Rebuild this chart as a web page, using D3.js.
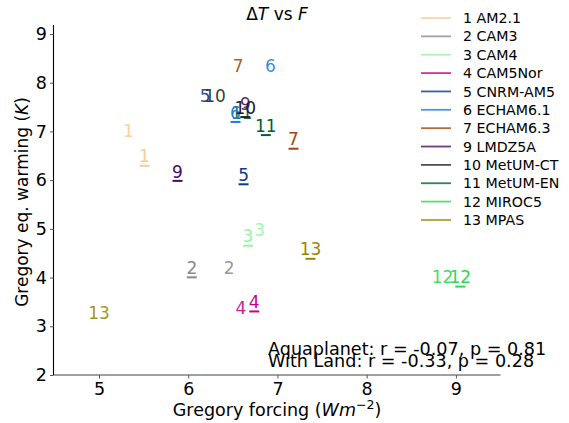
<!DOCTYPE html>
<html>
<head>
<meta charset="utf-8">
<script src="https://cdn.jsdelivr.net/npm/d3@7"></script>
<style>
body { margin: 0; background: #fff; }
text { font-family: "DejaVu Sans", sans-serif; }
</style>
</head>
<body>
<svg id="chart"></svg>
<script>
// model ids / names / colours
const models = ["1", "2", "3", "4", "5", "6", "7", "9", "10", "11", "12", "13"];
const names = ["AM2.1", "CAM3", "CAM4", "CAM5Nor", "CNRM-AM5", "ECHAM6.1", "ECHAM6.3",
    "LMDZ5A", "MetUM-CT", "MetUM-EN", "MIROC5", "MPAS"];
const colors = ["#fdca93", "#8a8a8a", "#95f5a6", "#c8008a", "#0b3a8c", "#1a80dc", "#a3470c",
    "#4a0a5a", "#222222", "#006035", "#30d850", "#9a8700"];

// aquaplanet: forcing (W m-2), warming (K)
const aquaF = [5.33, 6.46, 6.80, 6.59, 6.19, 6.92, 6.56, 6.64, 6.30, 6.60, 8.85, 5.00];
const aquaT = [7.01, 4.20, 4.98, 3.38, 7.73, 8.34, 8.34, 7.56, 7.72, 7.38, 4.01, 3.27];
// with land
const landF = [5.51, 6.04, 6.67, 6.74, 6.62, 6.53, 7.18, 5.88, 6.64, 6.87, 9.05, 7.37];
const landT = [6.49, 4.20, 4.85, 3.50, 6.11, 7.39, 6.84, 6.18, 7.49, 7.12, 4.01, 4.58];

const xTicks = [5, 6, 7, 8, 9];
const yTicks = [2, 3, 4, 5, 6, 7, 8, 9];

const width = 569;
const height = 423;
const margin = {left: 53.5, right: 68.5, top: 25, bottom: 48};

const svg = d3.select("#chart")
    .attr("width", width)
    .attr("height", height);

const x = d3.scaleLinear().domain([4.49, 9.5]).range([margin.left, width - margin.right]);
const y = d3.scaleLinear().domain([2, 9.185]).range([height - margin.bottom, margin.top]);

// axes
const xAxis = svg.append("g")
    .attr("transform", `translate(0,${height - margin.bottom})`)
    .call(d3.axisBottom(x).tickValues(xTicks).tickSize(3.5).tickPadding(4).tickFormat(d3.format("d")));
xAxis.select(".domain").attr("stroke", "#808080").attr("stroke-width", 1.6)
    .attr("d", `M${x.range()[0]},0H${x.range()[1]}`);
xAxis.selectAll(".tick line").attr("stroke", "#555");
xAxis.selectAll("text").attr("font-size", 17.5).attr("fill", "#000");

const yAxis = svg.append("g")
    .attr("transform", `translate(${margin.left},0)`)
    .call(d3.axisLeft(y).tickValues(yTicks).tickSize(3.5).tickPadding(3).tickFormat(d3.format("d")));
yAxis.select(".domain").attr("stroke", "#000").attr("stroke-width", 1.1)
    .attr("d", `M0,${y.range()[0]}V${y.range()[1]}`);
yAxis.selectAll(".tick line").attr("stroke", "#555");
yAxis.selectAll("text").attr("font-size", 17.5).attr("fill", "#000");

// axis labels + title
svg.append("text")
    .attr("x", (x.range()[0] + x.range()[1]) / 2)
    .attr("y", 416)
    .attr("text-anchor", "middle")
    .attr("font-size", 17.5)
    .html('Gregory forcing (<tspan font-style="italic">Wm</tspan><tspan dy="-7" font-size="12.5">−2</tspan><tspan dy="7">)</tspan>');

svg.append("text")
    .attr("transform", `translate(28,${(y.range()[0] + y.range()[1]) / 2 + 2}) rotate(-90)`)
    .attr("text-anchor", "middle")
    .attr("font-size", 17)
    .html('Gregory eq. warming (<tspan font-style="italic">K</tspan>)');

svg.append("text")
    .attr("x", (x.range()[0] + x.range()[1]) / 2)
    .attr("y", 20)
    .attr("text-anchor", "middle")
    .attr("font-size", 17)
    .html('Δ<tspan font-style="italic">T</tspan> vs <tspan font-style="italic">F</tspan>');

// aquaplanet labels
const aqua = models.map((m, i) => ({id: m, f: aquaF[i], t: aquaT[i], c: colors[i]}));
const land = models.map((m, i) => ({id: m, f: landF[i], t: landT[i], c: colors[i]}));

svg.append("g")
    .selectAll("text")
    .data(aqua)
    .join("text")
    .attr("x", d => x(d.f))
    .attr("y", d => y(d.t))
    .attr("dy", "0.36em")
    .attr("text-anchor", "middle")
    .attr("font-size", 17)
    .attr("fill", d => d.c)
    .attr("fill-opacity", 0.9)
    .text(d => d.id);

const landG = svg.append("g")
    .selectAll("g")
    .data(land)
    .join("g")
    .attr("transform", d => `translate(${x(d.f)},${y(d.t)})`);

landG.append("text")
    .attr("dy", "0.36em")
    .attr("text-anchor", "middle")
    .attr("font-size", 17)
    .attr("fill", d => d.c)
    .text(d => d.id);

landG.append("line")
    .attr("x1", -5).attr("x2", 5)
    .attr("y1", 9.5).attr("y2", 9.5)
    .attr("stroke", d => d.c)
    .attr("stroke-width", 2);

// correlation note
svg.append("text")
    .attr("x", 268)
    .attr("y", 355)
    .attr("font-size", 17.6)
    .text("Aquaplanet: r = -0.07, p = 0.81");
svg.append("text")
    .attr("x", 268)
    .attr("y", 367)
    .attr("font-size", 17.6)
    .text("With Land: r = -0.33, p = 0.28");

// legend
const legend = svg.append("g")
    .selectAll("g")
    .data(models)
    .join("g")
    .attr("transform", (d, i) => `translate(421,${18 + i * 18.36})`);

legend.append("line")
    .attr("x1", 0).attr("x2", 30)
    .attr("stroke", (d, i) => colors[i])
    .attr("stroke-opacity", 0.8)
    .attr("stroke-width", 1.8);

legend.append("text")
    .attr("x", 42)
    .attr("dy", "0.36em")
    .attr("font-size", 14.2)
    .text((d, i) => `${d} ${names[i]}`);
</script>
</body>
</html>
